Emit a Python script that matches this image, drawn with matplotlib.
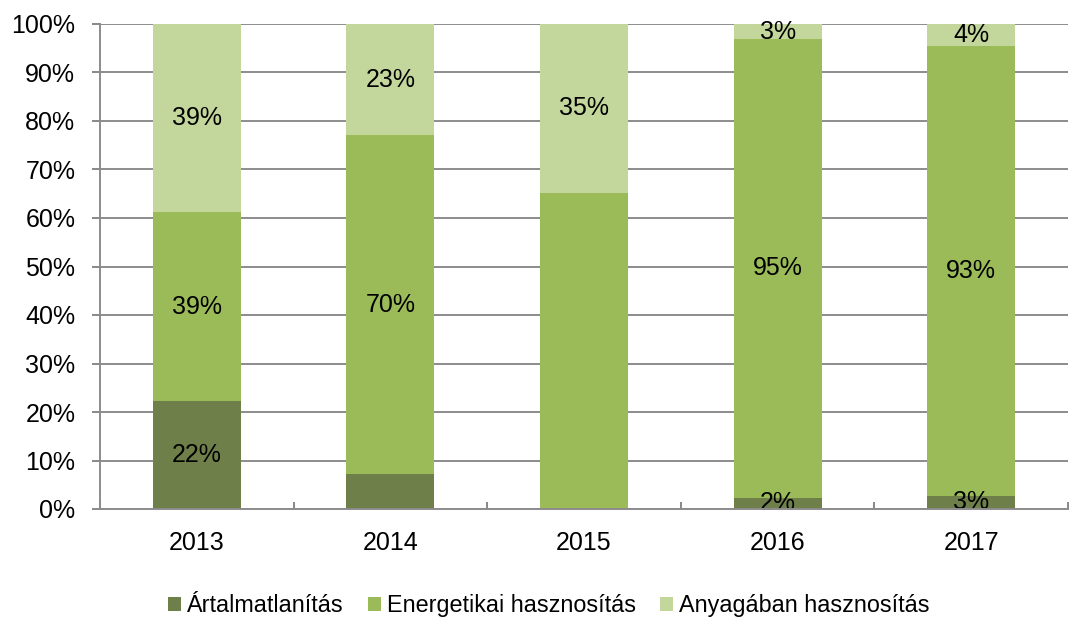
import matplotlib
matplotlib.use("Agg")
import matplotlib.pyplot as plt
import numpy as np

plt.rcParams['font.family'] = ['Liberation Sans', 'DejaVu Sans']

years = ["2013", "2014", "2015", "2016", "2017"]
artalmatlanitas = [22.3, 7.2, 0.1, 2.3, 2.7]
energetikai = [38.9, 69.9, 65.1, 94.6, 92.8]
anyagaban = [38.8, 22.9, 34.8, 3.1, 4.5]

# shown data labels (None = not shown)
lab_art = ["22%", None, None, "2%", "3%"]
lab_ene = ["39%", "70%", None, "95%", "93%"]
lab_any = ["39%", "23%", "35%", "3%", "4%"]

series_names = ["Ártalmatlanítás", "Energetikai hasznosítás", "Anyagában hasznosítás"]
colors = ["#6E7F4A", "#9BBB59", "#C3D69B"]

FS = 18

fig = plt.figure(figsize=(10.70, 6.19), dpi=100)
ax = fig.add_axes([100/1070, 1-509/619, 968/1070, 485/619])

x = np.arange(len(years))
w = 0.455
series = [artalmatlanitas, energetikai, anyagaban]
labels = [lab_art, lab_ene, lab_any]
bottom = np.zeros(len(years))
for vals, labs, c, name in zip(series, labels, colors, series_names):
    vals = np.array(vals)
    ax.bar(x, vals, w, bottom=bottom, color=c, label=name, zorder=3)
    for xi, b, v, l in zip(x, bottom, vals, labs):
        if l is not None:
            ax.text(xi, b + v/2, l, ha='center', va='center', fontsize=FS, color='black', zorder=4)
    bottom = bottom + vals

ax.set_xlim(-0.5, len(years) - 0.5)
ax.set_ylim(0, 100)
ax.set_yticks(np.arange(0, 101, 10))
ax.set_yticklabels([f"{v}%" for v in range(0, 101, 10)], fontsize=FS)
ax.set_xticks(x)
ax.set_xticklabels(years, fontsize=FS)
ax.tick_params(axis='x', length=0, pad=16)
ax.set_xticks(np.arange(-0.5, len(years), 1.0), minor=True)
ax.tick_params(axis='x', which='minor', length=5.2, width=1.4, color='#888888', direction='in')
ax.tick_params(axis='y', length=5.8, width=1.4, color='#888888', direction='out', pad=12)
ax.yaxis.grid(True, color='#8C8C8C', linewidth=1.4, zorder=0)
for s in ['top', 'right']:
    ax.spines[s].set_visible(False)
for s in ['left', 'bottom']:
    ax.spines[s].set_color('#8C8C8C')
    ax.spines[s].set_linewidth(1.4)
    ax.spines[s].set_zorder(5)

leg = fig.legend(loc='lower center', bbox_to_anchor=(0.513, -0.031), ncol=3, frameon=False,
                 fontsize=16.8, handlelength=0.55, handleheight=0.55, handletextpad=0.25,
                 columnspacing=1.05)

fig.savefig("out.png", dpi=100)
